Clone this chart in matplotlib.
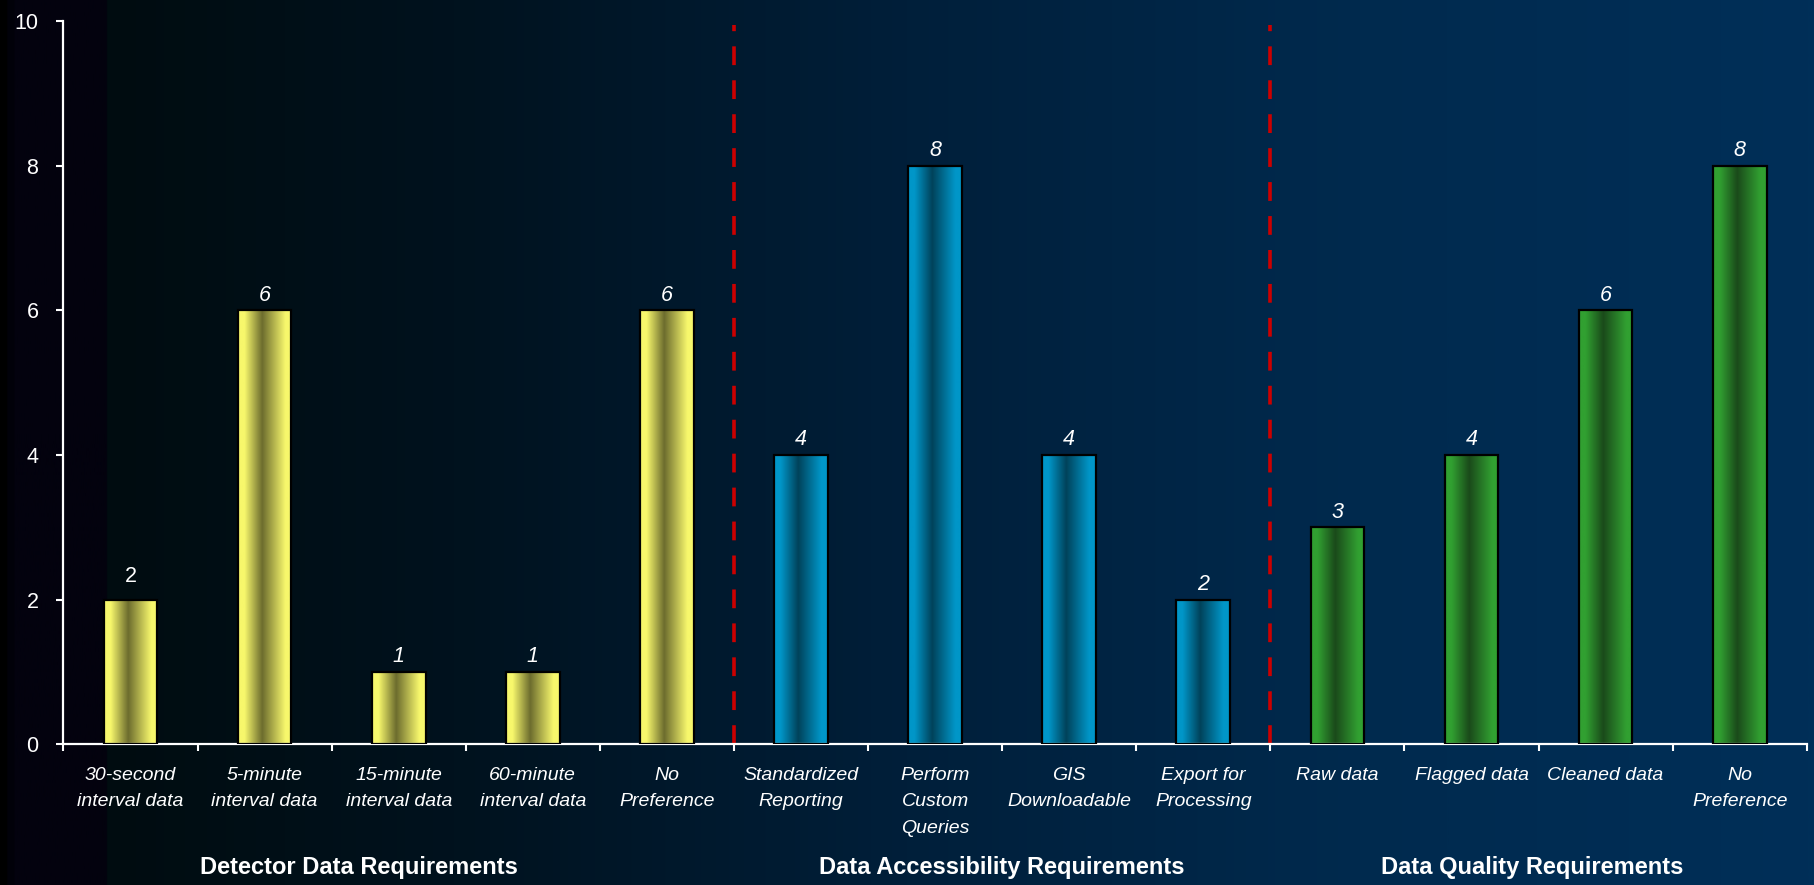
import numpy as np
import matplotlib
matplotlib.use("Agg")
import matplotlib.pyplot as plt
from matplotlib.colors import LinearSegmentedColormap

plt.rcParams['font.family'] = ['Liberation Sans', 'DejaVu Sans']

# survey counts per requirement
categories = ["30-second\ninterval data", "5-minute\ninterval data", "15-minute\ninterval data",
              "60-minute\ninterval data", "No\nPreference",
              "Standardized\nReporting", "Perform\nCustom\nQueries", "GIS\nDownloadable",
              "Export for\nProcessing",
              "Raw data", "Flagged data", "Cleaned data", "No\nPreference"]
counts = [2, 6, 1, 1, 6, 4, 8, 4, 2, 3, 4, 6, 8]
groups = ["Detector Data Requirements", "Data Accessibility Requirements", "Data Quality Requirements"]
group_sizes = [5, 4, 4]
group_title_x = [1.7, 6.5, 10.45]

# light edge / dark middle for each group's bar shading
shades = [("#f7f76c", "#6c6c2e"), ("#0096c8", "#00425a"), ("#31a031", "#1a4a1a")]

fig = plt.figure(figsize=(18.14, 8.85), dpi=100)

# horizontal background gradient
bg = fig.add_axes([0, 0, 1, 1], zorder=-10)
bg_cmap = LinearSegmentedColormap.from_list(
    "bg", [(0.0, "#000000"), (0.006, "#03020e"), (0.057, "#03020e"), (0.058, "#000c10"),
           (0.25, "#00121e"), (0.5, "#001f3a"), (0.75, "#002a4e"), (1.0, "#002f58")])
bg.imshow(np.linspace(0, 1, 1000)[None, :], aspect="auto", cmap=bg_cmap,
          extent=[0, 1, 0, 1])
bg.set_axis_off()

ax = fig.add_axes([0.035, 0.159, 0.961, 0.817])
ax.patch.set_alpha(0)

x = np.arange(len(counts))
bars = ax.bar(x, counts, width=0.4, facecolor="none", edgecolor="black",
              linewidth=1.6, zorder=3)

# fill each bar with a left-right shaded gradient clipped to the bar
bar_group = np.repeat(np.arange(len(group_sizes)), group_sizes)
t = np.linspace(0, 1, 200)[None, :]
for b, g in zip(bars, bar_group):
    light, dark = shades[g]
    cmap = LinearSegmentedColormap.from_list("bar", [(0, light), (0.12, light), (0.45, dark),
                                                     (0.88, light), (1, light)])
    x0, y0 = b.get_x(), b.get_y()
    im = ax.imshow(t, aspect="auto", cmap=cmap, extent=[x0, x0 + b.get_width(), y0, y0 + b.get_height()],
                   zorder=2.5)
    im.set_clip_path(b)

for i, (xi, v) in enumerate(zip(x, counts)):
    # first label is upright and sits a little higher
    ax.annotate(str(v), (xi, v), xytext=(0, 9 if i == 0 else 3.5), textcoords="offset points",
                ha="center", va="bottom", color="white", fontsize=15.5,
                style="normal" if i == 0 else "italic")

# separators between the requirement groups
for edge in np.cumsum(group_sizes)[:-1] - 0.5:
    ax.axvline(edge, ymin=0, ymax=0.995, color="#cc0000", linewidth=2.6,
               dashes=(5.2, 4.2), zorder=1)

ax.set_xlim(-0.5, len(counts) - 0.5)
ax.set_ylim(0, 10)
ax.set_yticks(np.arange(0, 11, 2))
ax.set_xticks(x)
ax.set_xticklabels(categories, fontsize=14, style="italic", color="white")
for lbl in ax.get_xticklabels():
    lbl.set_linespacing(1.75)
ax.set_xticks(np.arange(-0.5, len(counts), 1), minor=True)
ax.tick_params(axis="x", which="major", length=0, pad=16)
ax.tick_params(axis="x", which="minor", length=5, width=1.5, color="white", direction="out")
ax.tick_params(axis="y", length=5, width=1.5, color="white", labelcolor="white",
               labelsize=15.5, pad=13)

for s in ["top", "right"]:
    ax.spines[s].set_visible(False)
for s in ["left", "bottom"]:
    ax.spines[s].set_color("white")
    ax.spines[s].set_linewidth(1.6)

for gx, name in zip(group_title_x, groups):
    ax.text(gx, -0.171, name, transform=ax.get_xaxis_transform(), ha="center", va="center",
            fontsize=17, fontweight="bold", color="white")

fig.savefig("out.png", dpi=100)
